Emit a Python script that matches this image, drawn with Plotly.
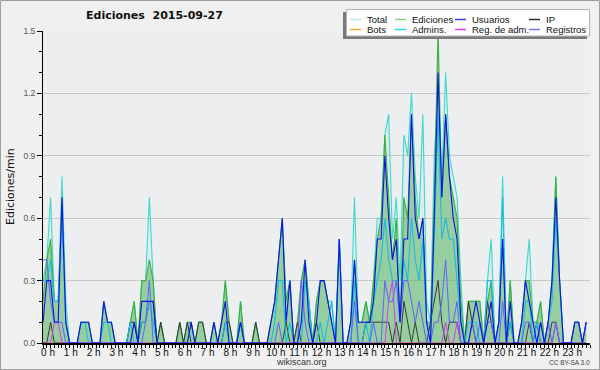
import plotly.graph_objects as go

# 10-minute bins over the day (values in edits/min)
bin_minutes = list(range(0, 1440, 10))
hour_labels = [f"{h} h" for h in range(24)]

total = [
    0.3, 0.4, 0.7, 0.2, 0.2, 0.8,   # 0h
    0.2, 0, 0, 0, 0.1, 0.1,         # 1h
    0.1, 0, 0, 0, 0.2, 0.1,         # 2h
    0.1, 0, 0, 0, 0, 0.1,           # 3h
    0.2, 0, 0.3, 0.3, 0.7, 0.3,     # 4h
    0, 0.1, 0, 0, 0, 0,             # 5h
    0.1, 0, 0.1, 0.1, 0, 0.1,       # 6h
    0.1, 0, 0, 0.1, 0, 0.1,         # 7h
    0.3, 0.1, 0, 0, 0.2, 0,         # 8h
    0, 0, 0.1, 0, 0, 0,             # 9h
    0.1, 0.2, 0.4, 0.6, 0.2, 0.3,   # 10h
    0, 0.1, 0.3, 0.4, 0.2, 0,       # 11h
    0.2, 0.3, 0.3, 0.2, 0.2, 0,     # 12h
    0.5, 0, 0, 0.1, 0.7, 0.1,       # 13h
    0.1, 0.2, 0.1, 0.3, 0.6, 0.6,   # 14h
    1.0, 1.1, 0.5, 0.7, 0.3, 1.0,   # 15h
    0.9, 1.2, 0.8, 0.6, 1.1, 0.2,   # 16h
    0.1, 0.9, 1.2, 0.8, 1.3, 0.9,   # 17h
    0.8, 0.7, 0.3, 0, 0.2, 0.2,     # 18h
    0.2, 0.2, 0, 0.3, 0.5, 0,       # 19h
    0.1, 0.8, 0, 0.3, 0, 0,         # 20h
    0.1, 0.3, 0.5, 0.1, 0.1, 0.2,   # 21h
    0, 0.1, 0.3, 0.8, 0.3, 0,       # 22h
    0, 0, 0.1, 0.1, 0, 0.1,         # 23h
]

ediciones = [
    0.2, 0.4, 0.5, 0.2, 0.2, 0.7,
    0.1, 0, 0, 0, 0.1, 0.1,
    0.1, 0, 0, 0, 0.2, 0.1,
    0.1, 0, 0, 0, 0, 0.1,
    0.2, 0, 0.3, 0.3, 0.4, 0.3,
    0, 0.1, 0, 0, 0, 0,
    0.1, 0, 0.1, 0.1, 0, 0.1,
    0.1, 0, 0, 0.1, 0, 0.1,
    0.3, 0.1, 0, 0, 0.2, 0,
    0, 0, 0.1, 0, 0, 0,
    0.1, 0.2, 0.4, 0.6, 0.2, 0.3,
    0, 0.1, 0.3, 0.4, 0.2, 0,
    0.2, 0.3, 0.3, 0.2, 0.1, 0,
    0.5, 0, 0, 0.1, 0.4, 0.1,
    0.1, 0.2, 0.1, 0.3, 0.5, 0.6,
    1.0, 0.7, 0.4, 0.6, 0.1, 0.7,
    0.6, 1.1, 0.7, 0.5, 0.6, 0.1,
    0.1, 0.7, 1.5, 0.7, 1.1, 0.8,
    0.7, 0.6, 0.2, 0, 0.2, 0.2,
    0.2, 0.2, 0, 0.2, 0.3, 0,
    0.1, 0.5, 0, 0.3, 0, 0,
    0.1, 0.3, 0.3, 0.1, 0.1, 0.2,
    0, 0.1, 0.3, 0.8, 0.3, 0,
    0, 0, 0.1, 0.1, 0, 0.1,
]

usuarios = [
    0.1, 0.3, 0.3, 0.1, 0.1, 0.7,
    0.1, 0, 0, 0, 0.1, 0.1,
    0.1, 0, 0, 0, 0.2, 0.1,
    0.1, 0, 0, 0, 0, 0,
    0.1, 0, 0.2, 0.2, 0.2, 0.2,
    0, 0, 0, 0, 0, 0,
    0, 0, 0, 0.1, 0, 0,
    0, 0, 0, 0.1, 0, 0.1,
    0.2, 0, 0, 0, 0.1, 0,
    0, 0, 0, 0, 0, 0,
    0.1, 0.2, 0.4, 0.6, 0.1, 0.3,
    0, 0, 0.1, 0.4, 0.1, 0,
    0.1, 0.3, 0.3, 0.2, 0.1, 0,
    0.5, 0, 0, 0.1, 0.4, 0.1,
    0.1, 0.1, 0.1, 0.2, 0.5, 0.5,
    0.9, 0.6, 0.4, 0.5, 0.1, 0.5,
    0.5, 1.1, 0.6, 0.5, 0.6, 0.1,
    0, 0.6, 1.3, 0.7, 1.1, 0.8,
    0.6, 0.5, 0.1, 0, 0, 0.1,
    0.2, 0.1, 0, 0.1, 0.2, 0,
    0.1, 0.5, 0, 0.2, 0, 0,
    0.1, 0.3, 0.2, 0.1, 0, 0.1,
    0, 0.1, 0.3, 0.7, 0.3, 0,
    0, 0, 0.1, 0.1, 0, 0.1,
]

ip = [
    0, 0, 0.1, 0, 0, 0,
    0, 0, 0, 0, 0, 0,
    0, 0, 0, 0, 0, 0,
    0, 0, 0, 0, 0, 0.1,
    0.1, 0, 0.1, 0.1, 0.2, 0.2,
    0, 0.1, 0, 0, 0, 0,
    0.1, 0, 0.1, 0, 0, 0.1,
    0.1, 0, 0, 0, 0, 0,
    0.1, 0.1, 0, 0, 0.1, 0,
    0, 0, 0.1, 0, 0, 0,
    0, 0, 0, 0, 0.1, 0,
    0, 0.1, 0, 0, 0, 0,
    0.1, 0, 0, 0, 0, 0,
    0, 0, 0, 0, 0, 0,
    0, 0.1, 0.1, 0.1, 0.1, 0.1,
    0.1, 0.1, 0, 0.1, 0, 0.2,
    0.1, 0, 0.1, 0, 0, 0,
    0.1, 0.2, 0.3, 0.1, 0, 0.1,
    0.1, 0.1, 0, 0, 0.2, 0.1,
    0, 0, 0, 0.2, 0.1, 0,
    0, 0, 0, 0.1, 0, 0,
    0, 0, 0.1, 0, 0.1, 0,
    0, 0, 0.1, 0.1, 0, 0,
    0, 0, 0, 0, 0, 0,
]

bots = [0] * 144

admins = [
    0.3, 0.3, 0.4, 0.2, 0.2, 0.6,
    0.1, 0, 0, 0, 0.1, 0.1,
    0, 0, 0, 0, 0.1, 0.1,
    0, 0, 0, 0, 0, 0.1,
    0, 0, 0.1, 0.1, 0.2, 0.1,
    0, 0, 0, 0, 0, 0,
    0, 0, 0, 0.1, 0, 0,
    0, 0, 0, 0, 0, 0,
    0.1, 0, 0, 0, 0.1, 0,
    0, 0, 0, 0, 0, 0,
    0, 0.1, 0.3, 0.3, 0, 0.1,
    0, 0, 0, 0.3, 0.2, 0,
    0, 0.1, 0, 0.1, 0.2, 0,
    0.5, 0, 0, 0, 0.3, 0,
    0, 0.1, 0, 0.2, 0.3, 0.4,
    0.6, 0.4, 0.3, 0.3, 0.1, 0.4,
    0.3, 0.6, 0.4, 0.3, 0.5, 0.1,
    0, 0.5, 1.1, 0.5, 0.6, 0.5,
    0.5, 0.3, 0.1, 0, 0.1, 0.1,
    0.1, 0, 0, 0.3, 0.3, 0,
    0.1, 0.7, 0, 0.1, 0, 0,
    0, 0.2, 0.2, 0, 0.1, 0,
    0, 0.1, 0.2, 0.6, 0.3, 0,
    0, 0, 0, 0, 0, 0,
]

reg_adm = [
    0, 0, 0, 0.1, 0.1, 0,
    0, 0, 0, 0, 0, 0,
    0, 0, 0, 0, 0, 0,
    0, 0, 0, 0, 0, 0,
    0, 0, 0, 0, 0, 0,
    0, 0, 0, 0, 0, 0,
    0, 0, 0, 0, 0, 0,
    0, 0, 0, 0, 0, 0,
    0, 0, 0, 0, 0, 0,
    0, 0, 0, 0, 0, 0,
    0, 0, 0, 0, 0, 0,
    0, 0, 0, 0, 0, 0,
    0, 0, 0, 0, 0, 0,
    0, 0, 0, 0, 0, 0,
    0, 0, 0, 0, 0, 0,
    0, 0.2, 0.3, 0, 0, 0,
    0, 0, 0, 0, 0, 0,
    0, 0, 0, 0, 0.1, 0,
    0, 0.1, 0, 0, 0, 0,
    0, 0, 0, 0, 0, 0,
    0, 0, 0, 0, 0, 0,
    0, 0, 0, 0, 0, 0,
    0, 0, 0, 0.1, 0, 0,
    0, 0, 0, 0, 0, 0,
]

registros = [
    0.4, 0.4, 0.2, 0.1, 0.1, 0.1,
    0, 0, 0, 0, 0, 0,
    0, 0, 0, 0, 0, 0,
    0, 0, 0, 0, 0, 0,
    0, 0, 0, 0.1, 0.3, 0,
    0, 0, 0, 0, 0, 0,
    0, 0, 0, 0, 0, 0,
    0, 0, 0, 0, 0, 0,
    0, 0, 0, 0, 0, 0,
    0, 0, 0, 0, 0, 0,
    0, 0, 0.1, 0, 0, 0,
    0, 0, 0.3, 0.1, 0, 0,
    0, 0, 0, 0, 0, 0,
    0, 0, 0, 0, 0.2, 0,
    0, 0, 0, 0.1, 0, 0,
    0.3, 0.2, 0.2, 0.3, 0.1, 0.3,
    0.3, 0.2, 0.1, 0.2, 0.1, 0,
    0, 0.1, 0.1, 0.2, 0.4, 0.1,
    0.1, 0.2, 0, 0, 0, 0.1,
    0, 0.1, 0, 0.1, 0.1, 0,
    0, 0.2, 0, 0, 0, 0,
    0, 0.1, 0.1, 0, 0, 0.1,
    0, 0.1, 0, 0.1, 0, 0,
    0, 0, 0.1, 0.1, 0, 0.1,
]

x = [m / 60 for m in bin_minutes]

C_TOTAL = "#3ed8cc"
C_EDIT = "#3cb03c"
C_USER = "#1010ee"
C_IP = "#3a3a3a"
C_BOTS = "#ffa03c"
C_ADMIN = "#18bce0"
C_REGADM = "#d83ce8"
C_LOGS = "#6060ff"

fig = go.Figure()
fig.add_trace(go.Scatter(x=x, y=total, name="Total", mode="lines",
                         line=dict(color=C_TOTAL, width=1.1),
                         fill="tozeroy", fillcolor="rgba(150,230,230,0.15)"))
fig.add_trace(go.Scatter(x=x, y=ediciones, name="Ediciones", mode="lines",
                         line=dict(color=C_EDIT, width=1.1),
                         fill="tozeroy", fillcolor="rgba(80,175,80,0.5)"))
fig.add_trace(go.Scatter(x=x, y=bots, name="Bots", mode="lines",
                         line=dict(color=C_BOTS, width=1)))
fig.add_trace(go.Scatter(x=x, y=ip, name="IP", mode="lines",
                         line=dict(color=C_IP, width=1)))
fig.add_trace(go.Scatter(x=x, y=admins, name="Admins.", mode="lines",
                         line=dict(color=C_ADMIN, width=1.1)))
fig.add_trace(go.Scatter(x=x, y=reg_adm, name="Reg. de adm.", mode="lines",
                         line=dict(color=C_REGADM, width=1)))
fig.add_trace(go.Scatter(x=x, y=registros, name="Registros", mode="lines",
                         line=dict(color=C_LOGS, width=1)))
fig.add_trace(go.Scatter(x=x, y=usuarios, name="Usuarios", mode="lines",
                         line=dict(color=C_USER, width=1.1)))

# geometry helpers (pixel -> paper)
L, R, T, B, W, H = 43, 10, 31, 27, 600, 370
PW, PH = W - L - R, H - T - B
def px(v):
    return (v - L) / PW
def py(v):
    return (H - B - v) / PH

shapes = []
annotations = []

# outer frame
shapes.append(dict(type="rect", xref="paper", yref="paper",
                   x0=px(0.5), x1=px(599.5), y0=py(0.5), y1=py(369.5),
                   line=dict(color="#a0a0a0", width=1), layer="above"))

# legend box with shadow
shapes.append(dict(type="rect", xref="paper", yref="paper",
                   x0=px(343), x1=px(587), y0=py(12), y1=py(39),
                   fillcolor="#7a7a7a", line=dict(width=0), layer="above"))
shapes.append(dict(type="rect", xref="paper", yref="paper",
                   x0=px(346.5), x1=px(589.5), y0=py(9.5), y1=py(36),
                   fillcolor="#ffffff", line=dict(color="#b4b4b4", width=1), layer="above"))

legend_items = [
    ("Total", "#a6ecec", 350, 19.5), ("Ediciones", "#7cd47c", 395, 19.5),
    ("Usuarios", "#3c3cff", 455, 19.5), ("IP", "#303030", 529, 19.5),
    ("Bots", "#ffa533", 350, 29.5), ("Admins.", "#33d0ee", 395, 29.5),
    ("Reg. de adm.", "#e040f0", 455, 29.5), ("Registros", "#7373ff", 529, 29.5),
]
for name, col, lx, ly in legend_items:
    shapes.append(dict(type="line", xref="paper", yref="paper",
                       x0=px(lx), x1=px(lx + 11), y0=py(ly), y1=py(ly),
                       line=dict(color=col, width=1.5), layer="above"))
    annotations.append(dict(text=name, xref="paper", yref="paper",
                            x=px(lx + 14.5), y=py(ly), xanchor="left", yanchor="middle",
                            showarrow=False,
                            font=dict(family="Liberation Sans", size=9.5, color="#111")))

annotations.append(dict(text="<b>Ediciones  2015-09-27</b>", xref="paper", yref="paper",
                        x=px(154), y=py(16), xanchor="center", yanchor="middle",
                        showarrow=False, font=dict(family="DejaVu Sans", size=11, color="#111")))
annotations.append(dict(text="wikiscan.org", xref="paper", yref="paper",
                        x=px(301), y=py(361.5), xanchor="center", yanchor="middle",
                        showarrow=False, font=dict(family="Liberation Sans", size=9, color="#333")))
annotations.append(dict(text="CC BY-SA 3.0", xref="paper", yref="paper",
                        x=px(569), y=py(362), xanchor="center", yanchor="middle",
                        showarrow=False, font=dict(family="Liberation Sans", size=6.5, color="#444")))
annotations.append(dict(text="Ediciones/min", xref="paper", yref="paper",
                        x=px(10), y=py(187), xanchor="center", yanchor="middle",
                        textangle=-90, showarrow=False,
                        font=dict(family="DejaVu Sans", size=11, color="#111")))

fig.update_layout(
    width=W, height=H,
    margin=dict(l=L, r=R, t=T, b=B, pad=0),
    paper_bgcolor="#f0f0f0",
    plot_bgcolor="#edeef0",
    showlegend=False,
    font=dict(family="Liberation Sans", size=10, color="#111"),
    shapes=shapes,
    annotations=annotations,
)
fig.update_xaxes(
    range=[0, 24], tickmode="array", tickvals=list(range(24)), ticktext=hour_labels,
    showgrid=False, zeroline=False, showline=True, linecolor="#000", linewidth=2,
    ticks="outside", ticklen=3, tickcolor="#000", tickwidth=1,
    ticklabelshift=5, ticklabelstandoff=-4,
    tickfont=dict(family="Liberation Sans", size=10, color="#111"),
    minor=dict(dtick=1 / 6, tick0=0, ticks="outside", ticklen=3, tickcolor="#000", showgrid=False),
    fixedrange=True,
)
fig.update_yaxes(
    range=[0, 1.5], tickvals=[0, 0.3, 0.6, 0.9, 1.2, 1.5],
    ticktext=["0.0", "0.3", "0.6", "0.9", "1.2", "1.5"],
    showgrid=True, gridcolor="#c8c8c8", gridwidth=1, zeroline=False,
    showline=True, linecolor="#000", linewidth=1,
    ticks="outside", ticklen=5, tickcolor="#000",
    tickfont=dict(family="Liberation Sans", size=8.5, color="#555"),
    minor=dict(dtick=0.1, tick0=0, ticks="outside", ticklen=3, tickcolor="#000", showgrid=False),
    fixedrange=True,
)

fig.write_html(
    "out.html",
    config={"displayModeBar": False},
    post_script="document.body.style.margin='0';document.body.style.overflow='hidden';",
)
